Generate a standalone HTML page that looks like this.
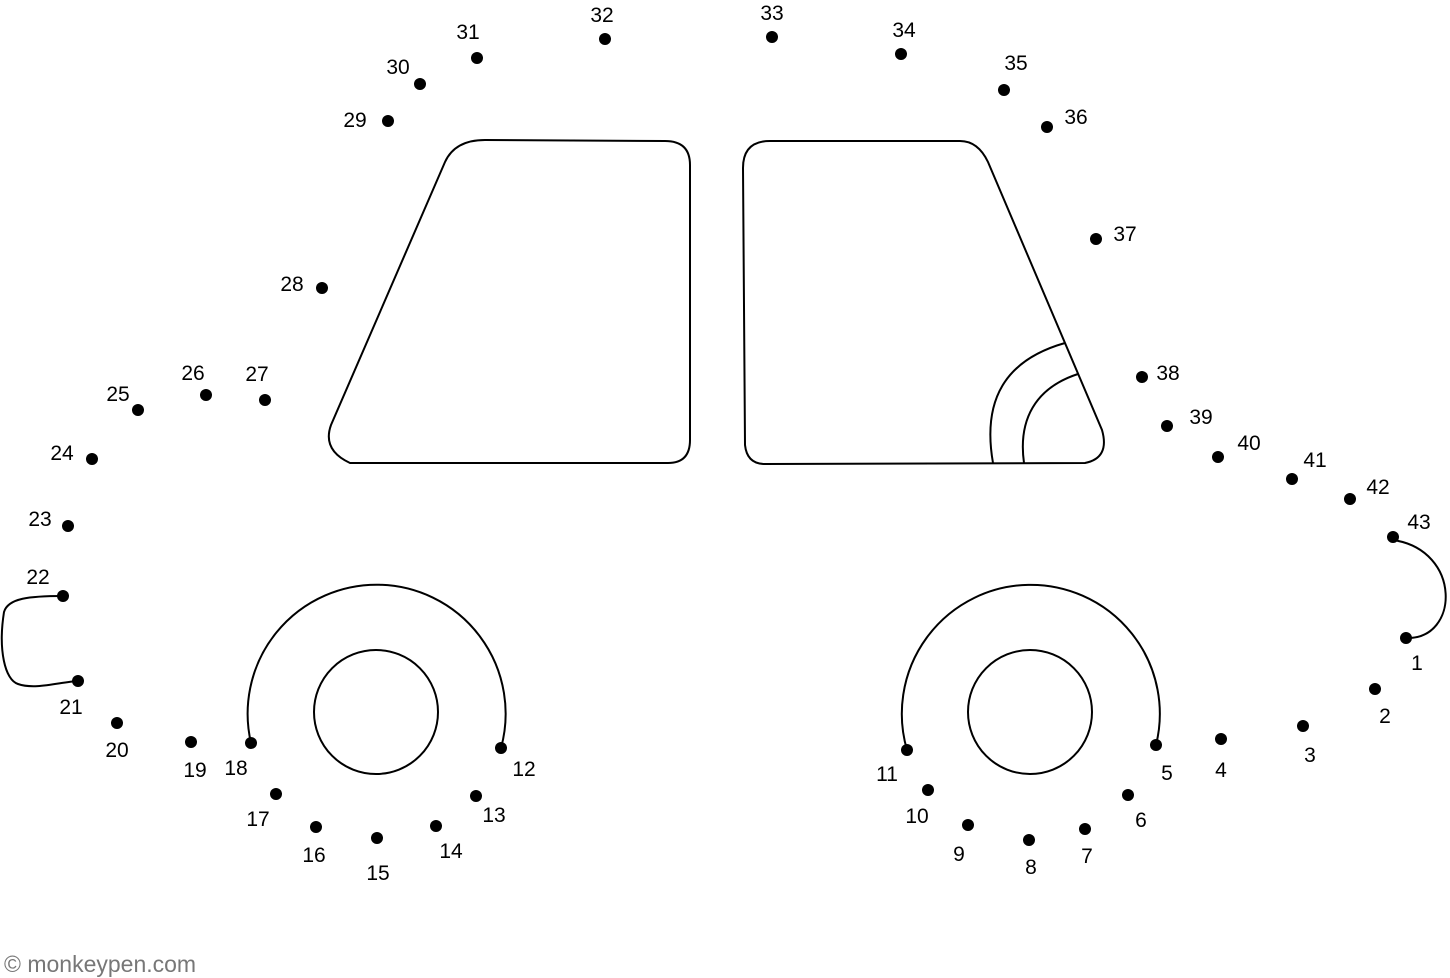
<!DOCTYPE html>
<html><head><meta charset="utf-8"><style>
html,body{margin:0;padding:0;background:#fff;}
svg{display:block}
text{font-family:"Liberation Sans",Arial,sans-serif;font-size:21px;fill:#000}
</style></head><body>
<svg width="1450" height="978" viewBox="0 0 1450 978" xmlns="http://www.w3.org/2000/svg">
<g fill="none" stroke="#000" stroke-width="2">
<path d="M350,463 L668,463 Q690,463 690,440 L690,165 Q690,141 665,141 L485,140 Q455,140 445,162 L331,425 Q322,450 350,463 Z"/>
<path d="M765,464 L1085,463 Q1110,458 1102,430 L988,162 Q978,141 960,141 L770,141 Q743,141 743,168 L745,445 Q747,464 765,464 Z"/>
<path d="M993,463 C982,400 1005,360 1065,343"/>
<path d="M1024,463 C1018,420 1035,388 1078,374"/>
<path d="M251,743 A129,129 0 1 1 501,748"/>
<circle cx="376" cy="712" r="62"/>
<path d="M907,750 A129,129 0 1 1 1156,745"/>
<circle cx="1030" cy="712" r="62"/>
<path d="M1393,540 C1462,550 1460,640 1406,638"/>
<path d="M63,596 C30,596 8,598 4,612 C-2,650 5,680 18,684 C35,690 60,682 78,681"/>
</g>
<g fill="#000">
<circle cx="1406" cy="638" r="6"/><circle cx="1375" cy="689" r="6"/><circle cx="1303" cy="726" r="6"/><circle cx="1221" cy="739" r="6"/><circle cx="1156" cy="745" r="6"/><circle cx="1128" cy="795" r="6"/><circle cx="1085" cy="829" r="6"/><circle cx="1029" cy="840" r="6"/><circle cx="968" cy="825" r="6"/><circle cx="928" cy="790" r="6"/><circle cx="907" cy="750" r="6"/><circle cx="501" cy="748" r="6"/><circle cx="476" cy="796" r="6"/><circle cx="436" cy="826" r="6"/><circle cx="377" cy="838" r="6"/><circle cx="316" cy="827" r="6"/><circle cx="276" cy="794" r="6"/><circle cx="251" cy="743" r="6"/><circle cx="191" cy="742" r="6"/><circle cx="117" cy="723" r="6"/><circle cx="78" cy="681" r="6"/><circle cx="63" cy="596" r="6"/><circle cx="68" cy="526" r="6"/><circle cx="92" cy="459" r="6"/><circle cx="138" cy="410" r="6"/><circle cx="206" cy="395" r="6"/><circle cx="265" cy="400" r="6"/><circle cx="322" cy="288" r="6"/><circle cx="388" cy="121" r="6"/><circle cx="420" cy="84" r="6"/><circle cx="477" cy="58" r="6"/><circle cx="605" cy="39" r="6"/><circle cx="772" cy="37" r="6"/><circle cx="901" cy="54" r="6"/><circle cx="1004" cy="90" r="6"/><circle cx="1047" cy="127" r="6"/><circle cx="1096" cy="239" r="6"/><circle cx="1142" cy="377" r="6"/><circle cx="1167" cy="426" r="6"/><circle cx="1218" cy="457" r="6"/><circle cx="1292" cy="479" r="6"/><circle cx="1350" cy="499" r="6"/><circle cx="1393" cy="537" r="6"/>
</g>
<g text-anchor="middle">
<text x="1417" y="670">1</text><text x="1385" y="723">2</text><text x="1310" y="762">3</text><text x="1221" y="777">4</text><text x="1167" y="780">5</text><text x="1141" y="827">6</text><text x="1087" y="863">7</text><text x="1031" y="874">8</text><text x="959" y="861">9</text><text x="917" y="823">10</text><text x="887" y="781">11</text><text x="524" y="776">12</text><text x="494" y="822">13</text><text x="451" y="858">14</text><text x="378" y="880">15</text><text x="314" y="862">16</text><text x="258" y="826">17</text><text x="236" y="775">18</text><text x="195" y="777">19</text><text x="117" y="757">20</text><text x="71" y="714">21</text><text x="38" y="584">22</text><text x="40" y="526">23</text><text x="62" y="460">24</text><text x="118" y="401">25</text><text x="193" y="380">26</text><text x="257" y="381">27</text><text x="292" y="291">28</text><text x="355" y="127">29</text><text x="398" y="74">30</text><text x="468" y="39">31</text><text x="602" y="22">32</text><text x="772" y="20">33</text><text x="904" y="37">34</text><text x="1016" y="70">35</text><text x="1076" y="124">36</text><text x="1125" y="241">37</text><text x="1168" y="380">38</text><text x="1201" y="424">39</text><text x="1249" y="450">40</text><text x="1315" y="467">41</text><text x="1378" y="494">42</text><text x="1419" y="529">43</text>
</g>
<text x="4" y="972" style="font-size:23px;fill:#777">© monkeypen.com</text>
</svg>
</body></html>
